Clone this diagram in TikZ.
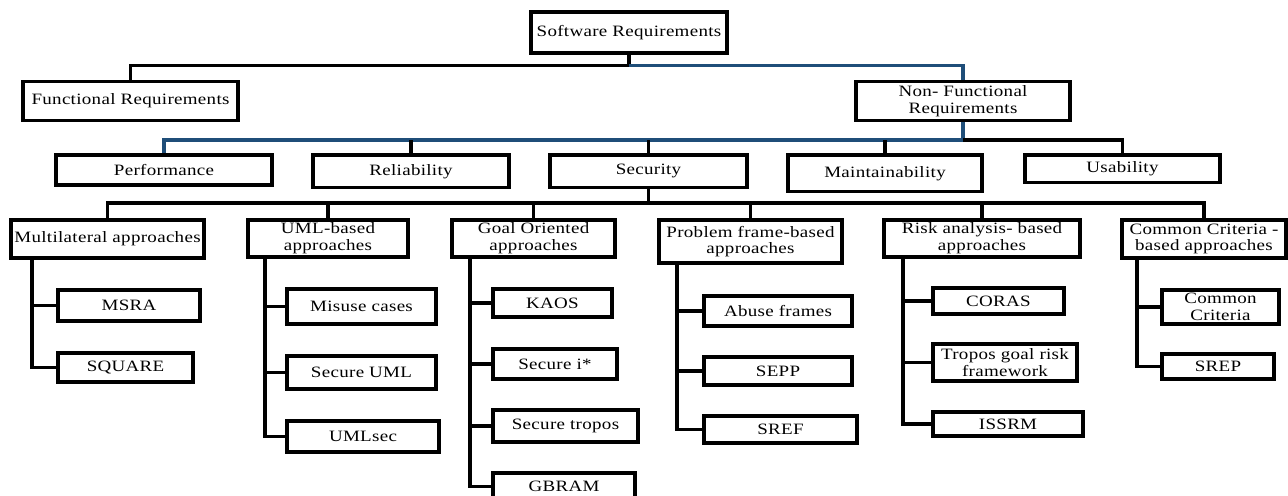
\documentclass[tikz,border=0pt]{standalone}
\usepackage{fontspec}
\setmainfont{Liberation Serif}[FakeStretch=1.2,LetterSpace=2]
\usepackage{tikz}
\definecolor{nfrblue}{HTML}{1F4E79}
\tikzset{
  reqbox/.style={draw=black, line width=2pt, align=center, inner sep=1pt,
    font=\fontsize{9}{9.5}\selectfont},
  link/.style={draw=black, line width=1.8pt},
  bluelink/.style={draw=nfrblue, line width=1.8pt},
}
% name, centre x, centre y, width, height, text
\newcommand{\reqnode}[6]{%
  \node[reqbox, minimum width=#4cm, minimum height=#5cm] (#1) at (#2,#3) {#6};%
}

\begin{document}
\begin{tikzpicture}[x=0.02cm, y=-0.02cm]
    \useasboundingbox (0,0) rectangle (1288,496);

    % Top levels
    \reqnode{sr}{629}{32.5}{3.92}{0.83}{Software Requirements}
    \reqnode{fr}{130.5}{101}{4.30}{0.78}{Functional Requirements}
    \reqnode{nfr}{963}{101}{4.28}{0.78}{Non- Functional\\Requirements}

    % Non-functional kinds
    \reqnode{perf}{164}{170}{4.32}{0.60}{Performance}
    \reqnode{rel}{411}{171.3}{3.92}{0.65}{Reliability}
    \reqnode{sec}{648.5}{171.3}{3.94}{0.65}{Security}
    \reqnode{maint}{885}{173.3}{3.88}{0.73}{Maintainability}
    \reqnode{usab}{1122.5}{168.8}{3.90}{0.55}{Usability}

    % Security approaches
    \reqnode{ml}{107.5}{239}{3.86}{0.76}{Multilateral approaches}
    \reqnode{uml}{328}{238.5}{3.20}{0.74}{UML-based\\approaches}
    \reqnode{goal}{533.5}{238.5}{3.26}{0.74}{Goal Oriented\\approaches}
    \reqnode{prob}{750.5}{241.5}{3.66}{0.86}{Problem frame-based\\approaches}
    \reqnode{risk}{982}{238.5}{3.92}{0.74}{Risk analysis- based\\approaches}
    \reqnode{cc}{1204}{239}{3.28}{0.76}{Common Criteria -\\based approaches}

    % Methods
    \reqnode{msra}{129}{305.5}{2.84}{0.62}{MSRA}
    \reqnode{square}{125.5}{367.5}{2.70}{0.58}{SQUARE}
    \reqnode{misuse}{361.5}{306.5}{2.98}{0.70}{Misuse cases}
    \reqnode{suml}{361.5}{372.5}{2.98}{0.66}{Secure UML}
    \reqnode{umlsec}{363}{436.5}{3.04}{0.62}{UMLsec}
    \reqnode{kaos}{552.5}{303}{2.38}{0.56}{KAOS}
    \reqnode{seci}{555}{364}{2.48}{0.60}{Secure i*}
    \reqnode{stropos}{565.5}{426}{2.90}{0.64}{Secure tropos}
    \reqnode{gbram}{564}{486.5}{2.84}{0.54}{GBRAM}
    \reqnode{abuse}{778}{311}{2.96}{0.60}{Abuse frames}
    \reqnode{sepp}{778}{371}{2.96}{0.56}{SEPP}
    \reqnode{sref}{780.5}{429.5}{3.06}{0.54}{SREF}
    \reqnode{coras}{998.5}{301}{2.62}{0.52}{CORAS}
    \reqnode{tgrf}{1005}{362.5}{2.88}{0.74}{Tropos goal risk\\framework}
    \reqnode{issrm}{1008}{424}{3.00}{0.48}{ISSRM}
    \reqnode{ccrit}{1220.5}{307}{2.34}{0.68}{Common\\Criteria}
    \reqnode{srep}{1218}{366.5}{2.24}{0.50}{SREP}

    % bus levels
    \coordinate (b1) at (0,65.7);
    \coordinate (b2) at (0,140);
    \coordinate (b3) at (0,203);

    \draw[link] (sr.south) -- (sr.south |- b1) -| (fr.north);
    \draw[bluelink] (sr.south |- b1) -| (nfr.north);

    \draw[bluelink] (nfr.south) -- (nfr.south |- b2) -| (perf.north);
    \draw[link] (nfr.south |- b2) -| (usab.north);
    \foreach \n in {rel,sec,maint}
      \draw[link] (\n.north) -- (\n.north |- b2);

    \draw[link] (sec.south) -- (sec.south |- b3);
    \draw[link] (ml.north) -- (ml.north |- b3) -| (cc.north);
    \foreach \n in {uml,goal,prob,risk}
      \draw[link] (\n.north) -- (\n.north |- b3);

    % side rails
    \draw[link] (32,0 |- ml.south) |- (square.west);
    \draw[link] (32,0 |- msra.west) -- (msra.west);
    \draw[link] (265,0 |- uml.south) |- (umlsec.west);
    \foreach \n in {misuse,suml}
      \draw[link] (265,0 |- \n.west) -- (\n.west);
    \draw[link] (470,0 |- goal.south) |- (gbram.west);
    \foreach \n in {kaos,seci,stropos}
      \draw[link] (470,0 |- \n.west) -- (\n.west);
    \draw[link] (677,0 |- prob.south) |- (sref.west);
    \foreach \n in {abuse,sepp}
      \draw[link] (677,0 |- \n.west) -- (\n.west);
    \draw[link] (903,0 |- risk.south) |- (issrm.west);
    \foreach \n in {coras,tgrf}
      \draw[link] (903,0 |- \n.west) -- (\n.west);
    \draw[link] (1137,0 |- cc.south) |- (srep.west);
    \draw[link] (1137,0 |- ccrit.west) -- (ccrit.west);
  \end{tikzpicture}
\end{document}
